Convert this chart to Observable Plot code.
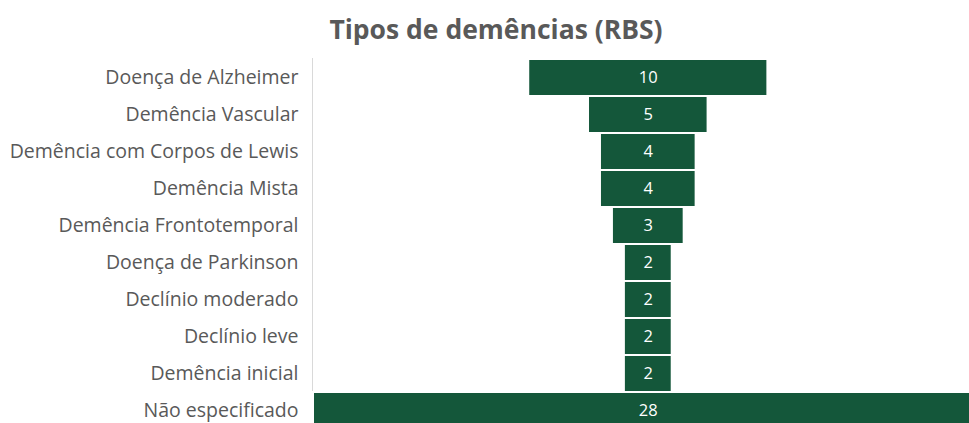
<!DOCTYPE html>
<html>
<head>
<meta charset="utf-8">
<script src="https://cdn.jsdelivr.net/npm/d3@7"></script>
<script src="https://cdn.jsdelivr.net/npm/@observablehq/plot@0.6"></script>
<style>
  html, body { margin: 0; padding: 0; background: #fff; overflow: hidden; width: 969px; height: 423px; }
  #wrap { position: relative; width: 969px; height: 423px; overflow: hidden; }
  #title { position: absolute; top: 11px; left: 0; width: 992px; text-align: center;
           font-family: "Open Sans", sans-serif; font-weight: 700; font-size: 26.5px; color: #595959; }
  #chart { position: absolute; top: 58px; left: 0; }
</style>
</head>
<body>
<div id="wrap">
  <div id="title">Tipos de demências (RBS)</div>
  <div id="chart"></div>
</div>
<script>
const categories = [
  "Doença de Alzheimer",
  "Demência Vascular",
  "Demência com Corpos de Lewis",
  "Demência Mista",
  "Demência Frontotemporal",
  "Doença de Parkinson",
  "Declínio moderado",
  "Declínio leve",
  "Demência inicial",
  "Não especificado"
];
const values = [10, 5, 4, 4, 3, 2, 2, 2, 2, 28];

const data = categories.map((c, i) => ({category: c, value: values[i]}));
const xMin = -14;
const xMax = (969 - 648) / 23.9;

const plot = Plot.plot({
  width: 969,
  height: 373,
  marginLeft: 313,
  marginRight: 0,
  marginTop: 0,
  marginBottom: 1,
  style: {fontFamily: "Open Sans, sans-serif", overflow: "visible"},
  x: {domain: [xMin, xMax], axis: null},
  y: {domain: categories, padding: 0, label: null},
  marks: [
    Plot.ruleX([xMin], {stroke: "#d9d9d9", strokeWidth: 1, dx: -1}),
    Plot.barX(data, {
      y: "category",
      x1: d => -d.value / 2,
      x2: d => d.value / 2,
      fill: "#14573a",
      stroke: "#ffffff",
      strokeWidth: 2,
      clip: false
    }),
    Plot.text(data, {
      y: "category",
      x: 0,
      text: d => String(d.value),
      fill: "#ffffff",
      fontSize: 16.5
    }),
    Plot.axisY({
      tickSize: 0,
      tickPadding: 15,
      fontSize: 19.5,
      color: "#595959",
      label: null
    })
  ]
});
document.getElementById("chart").appendChild(plot);
</script>
</body>
</html>
